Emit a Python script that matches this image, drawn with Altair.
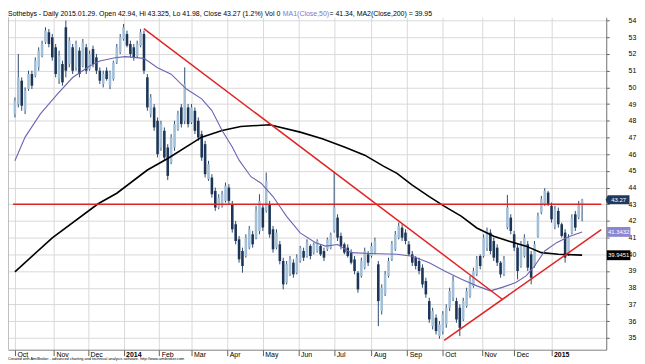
import altair as alt
import pandas as pd

# ---------------- data ----------------
month_ticks = [0, 23, 43, 64, 85, 104, 125, 146, 167, 188, 210, 231, 252, 275, 294, 316]
month_labels = ["Oct", "Nov", "Dec", "2014", "Feb", "Mar", "Apr", "May", "Jun", "Jul",
                "Aug", "Sep", "Oct", "Nov", "Dec", "2015"]
price_ticks = [35, 36, 37, 38, 39, 40, 41, 42, 43, 44, 45, 46, 47, 48, 49, 50, 51, 52, 53, 54]

bar_day = list(range(0, 335, 2))
bar_high = [49.4, 52.0, 50.6, 50.0, 51.0, 51.0, 51.8, 52.4, 52.8, 53.6,
            53.5, 53.2, 52.6, 52.2, 51.6, 54.0, 53.0, 52.6, 52.8, 52.4,
            52.9, 52.6, 52.2, 52.5, 52.0, 51.2, 51.0, 51.2, 51.0, 51.6,
            52.6, 53.2, 53.8, 53.4, 52.8, 52.6, 52.8, 53.5, 53.4, 50.8,
            49.6, 49.0, 48.2, 48.0, 47.6, 46.6, 47.2, 48.0, 48.6, 49.0,
            51.2, 49.0, 49.0, 48.8, 48.2, 47.4, 46.8, 45.6, 44.8, 44.0,
            43.6, 43.8, 44.3, 44.2, 43.2, 42.0, 41.1, 40.4, 41.2, 41.7,
            41.4, 42.9, 43.6, 43.0, 44.9, 43.2, 41.7, 41.5, 40.8, 39.8,
            39.6, 39.9, 39.7, 40.0, 40.5, 40.4, 40.9, 40.6, 40.7, 40.9,
            40.6, 40.4, 41.0, 41.3, 44.95, 42.4, 41.3, 40.7, 40.6, 40.3,
            39.9, 39.0, 39.8, 40.4, 40.2, 40.7, 41.0, 39.6, 38.2, 39.0,
            39.8, 40.8, 41.4, 41.9, 41.8, 41.5, 40.8, 40.2, 39.9, 39.8,
            39.4, 38.6, 37.4, 36.8, 36.4, 36.0, 36.6, 37.0, 38.0, 38.7,
            37.4, 37.0, 37.4, 38.0, 38.7, 39.2, 39.9, 40.0, 41.2, 41.6,
            41.5, 41.0, 40.6, 39.6, 39.9, 43.56, 42.4, 41.4, 40.6, 40.8,
            41.2, 40.8, 40.2, 40.8, 42.5, 43.5, 43.96, 43.8, 43.1, 42.9,
            42.8, 41.9, 41.5, 41.2, 42.4, 42.6, 43.2, 43.325]
bar_low = [48.2, 48.8, 48.6, 48.4, 49.8, 49.9, 50.6, 51.0, 51.8, 52.6,
           52.4, 51.6, 50.6, 50.2, 50.1, 50.6, 51.2, 50.8, 51.0, 50.6,
           51.2, 50.8, 51.0, 51.2, 50.8, 50.2, 50.0, 50.4, 49.9, 50.4,
           51.4, 52.0, 52.8, 52.4, 51.8, 51.6, 51.8, 52.4, 50.8, 48.6,
           48.2, 47.4, 45.8, 46.2, 45.6, 44.45, 45.4, 46.2, 47.4, 47.6,
           47.8, 47.6, 47.8, 47.2, 46.8, 45.6, 44.6, 44.4, 43.4, 42.6,
           42.7, 42.8, 43.1, 43.0, 41.3, 40.6, 39.5, 38.9, 39.8, 40.3,
           40.4, 40.9, 41.2, 41.4, 42.5, 41.0, 40.1, 40.3, 39.4, 37.9,
           38.2, 38.7, 38.6, 38.8, 39.5, 39.6, 39.8, 39.7, 40.0, 40.1,
           39.9, 39.6, 40.2, 40.3, 41.3, 40.8, 40.3, 40.0, 39.8, 39.4,
           38.8, 37.7, 38.6, 39.1, 39.3, 39.8, 40.0, 35.7, 36.4, 37.5,
           38.6, 39.6, 40.2, 40.9, 40.8, 40.6, 39.9, 39.3, 39.1, 38.8,
           38.0, 37.4, 35.9, 35.5, 35.2, 34.95, 35.2, 35.6, 36.6, 37.2,
           35.9, 35.1, 36.0, 36.8, 37.4, 38.0, 38.7, 39.1, 39.8, 40.2,
           40.0, 39.6, 39.3, 38.6, 38.7, 41.5, 41.2, 40.2, 38.5, 39.2,
           39.8, 39.0, 38.2, 39.2, 41.0, 42.4, 42.9, 42.9, 41.9, 41.5,
           41.6, 41.0, 39.5, 39.9, 41.2, 41.4, 42.1, 41.98]
bar_open = [48.4, 49.0, 50.4, 48.6, 49.9, 50.8, 50.7, 51.2, 51.9, 52.7,
            53.3, 53.0, 52.4, 50.5, 51.4, 53.6, 51.4, 52.4, 51.2, 52.2,
            51.3, 52.4, 51.1, 52.3, 51.8, 51.0, 50.2, 51.0, 50.1, 50.5,
            51.5, 52.1, 52.9, 53.2, 52.6, 52.4, 51.9, 52.5, 53.2, 50.6,
            48.4, 48.8, 48.0, 46.4, 47.4, 46.4, 45.5, 46.4, 47.5, 48.8,
            48.0, 48.8, 47.9, 48.6, 48.0, 47.2, 46.6, 44.5, 44.6, 43.8,
            42.8, 42.9, 43.2, 44.0, 43.0, 41.8, 40.9, 40.2, 39.9, 40.4,
            41.2, 41.0, 41.4, 42.8, 42.6, 43.0, 41.5, 40.4, 40.6, 39.6,
            38.3, 38.8, 39.5, 38.9, 39.6, 40.2, 39.9, 40.5, 40.1, 40.2,
            40.5, 40.2, 40.3, 40.4, 41.4, 42.2, 41.1, 40.6, 40.4, 40.1,
            39.7, 38.9, 38.7, 39.2, 40.0, 39.9, 40.1, 39.4, 36.6, 37.6,
            38.7, 39.7, 40.3, 41.0, 41.6, 41.3, 40.6, 40.0, 39.8, 39.6,
            39.2, 38.4, 37.2, 35.7, 36.2, 35.1, 35.4, 35.8, 36.8, 37.4,
            37.2, 36.8, 36.1, 36.9, 37.5, 38.1, 38.8, 39.9, 39.9, 40.4,
            41.3, 40.8, 40.4, 39.5, 38.8, 41.6, 42.2, 41.2, 40.4, 39.3,
            39.9, 40.6, 40.0, 39.3, 41.1, 42.5, 43.0, 43.7, 42.9, 41.7,
            42.6, 41.8, 41.3, 40.0, 41.3, 42.4, 42.2, 42.94]
bar_close = [49.2, 50.6, 48.9, 49.8, 50.8, 50.1, 51.6, 52.2, 52.6, 53.4,
             52.6, 51.8, 50.8, 51.9, 50.3, 51.0, 52.8, 51.0, 52.6, 50.8,
             52.7, 51.0, 52.0, 51.4, 51.0, 50.4, 50.8, 50.5, 50.9, 51.5,
             52.4, 53.0, 53.6, 52.5, 52.0, 51.8, 52.6, 53.3, 51.0, 48.8,
             49.4, 47.6, 46.0, 47.8, 45.8, 44.7, 47.0, 47.8, 48.4, 47.8,
             50.2, 47.8, 48.8, 47.4, 47.0, 45.8, 44.8, 45.4, 43.6, 42.8,
             43.4, 43.6, 44.1, 43.2, 41.5, 40.8, 39.7, 39.3, 41.0, 41.5,
             40.6, 42.6, 43.2, 41.6, 44.4, 41.2, 40.3, 41.3, 39.6, 38.2,
             39.4, 39.7, 38.8, 39.8, 40.4, 39.8, 40.7, 39.9, 40.6, 40.8,
             40.0, 39.8, 40.9, 41.2, 42.8, 41.0, 40.5, 40.1, 39.9, 39.5,
             39.0, 37.9, 39.6, 40.2, 39.5, 40.5, 40.8, 37.2, 38.0, 38.8,
             39.6, 40.6, 41.2, 41.7, 41.0, 40.8, 40.0, 39.5, 39.3, 39.0,
             38.2, 37.6, 36.1, 36.6, 35.4, 35.8, 36.4, 36.8, 37.8, 38.4,
             36.1, 35.6, 37.2, 37.8, 38.5, 39.0, 39.7, 39.3, 41.0, 41.4,
             40.2, 39.8, 39.5, 38.8, 39.7, 42.8, 41.4, 40.4, 39.0, 40.6,
             41.0, 39.2, 38.6, 40.6, 42.3, 43.3, 43.8, 43.0, 42.1, 42.7,
             41.8, 41.1, 39.8, 41.0, 42.2, 41.6, 43.0, 43.27]

ma50_day = [0, 6, 15, 25, 34, 44, 50, 59, 65, 76, 84, 92, 101, 110, 116, 122, 128,
            132, 139, 145, 152, 160, 168, 177, 183, 190, 198, 209, 225, 234, 244,
            253, 263, 272, 280, 287, 295, 301, 306, 312, 319, 326, 334]
ma50_val = [45.6, 47.02, 48.41, 49.6, 50.59, 51.28, 51.58, 51.78, 51.84, 51.74,
            51.18, 50.79, 49.9, 49.31, 48.61, 47.42, 46.43, 45.64, 44.65, 44.26,
            43.46, 42.27, 41.28, 40.69, 40.49, 40.59, 40.1, 40.05, 40.0, 39.89,
            39.5, 39.0, 38.51, 38.11, 37.81, 38.02, 38.31, 38.71, 39.3, 40.2,
            40.7, 41.05, 41.34]

ma200_day = [0, 22, 49, 60, 78, 90, 110, 122, 133, 150, 168, 181, 194, 206, 217,
             225, 234, 244, 253, 263, 272, 282, 291, 301, 310, 320, 334]
ma200_val = [38.95, 40.99, 43.03, 43.66, 45.05, 45.74, 47.02, 47.42, 47.66, 47.76,
             47.32, 46.93, 46.43, 45.94, 45.28, 44.85, 44.15, 43.46, 42.87, 42.27,
             41.58, 41.08, 40.79, 40.49, 40.1, 40.0, 39.95]

trend_name = ["horizontal", "horizontal", "downtrend", "downtrend", "uptrend", "uptrend"]
trend_day = [-1.1, 345.3, 75.9, 287.4, 252.8, 345.3]
trend_val = [43.0, 43.0, 53.52, 37.28, 34.84, 41.48]

last_close = 43.27
ma50_last = 41.3432
ma200_last = 39.9451

title_part1 = "Sothebys - Daily 2015.01.29. Open 42.94, Hi 43.325, Lo 41.98, Close 43.27 (1.2%) Vol 0 "
title_part2 = "MA1(Close,50)"
title_part3 = " = 41.34, MA2(Close,200) = 39.95"
footer_text = ("Created with AmiBroker - advanced charting and technical analysis software. "
               "http://www.amibroker.com")

# ---------------- layout ----------------
W, H = 603, 335
FONT = "Liberation Sans"
x_dom = [-1.149, 345.3]
y_dom = [34.287, 54.196]

bars_df = pd.DataFrame({"day": bar_day, "high": bar_high, "low": bar_low,
                        "open": bar_open, "close": bar_close})
ma50_df = pd.DataFrame({"day": ma50_day, "val": ma50_val})
ma200_df = pd.DataFrame({"day": ma200_day, "val": ma200_val})
trend_df = pd.DataFrame({"name": trend_name, "day": trend_day, "val": trend_val})

xs = alt.Scale(domain=x_dom, nice=False, zero=False)
ys = alt.Scale(domain=y_dom, nice=False, zero=False)

label_expr = "[" + ",".join("'%s'" % m for m in month_labels) + "][indexof([" + \
    ",".join(str(t) for t in month_ticks) + "], datum.value)]"

x_axis = alt.Axis(values=month_ticks, labelExpr=label_expr, orient="bottom",
                  grid=True, gridColor="#d9d9d9", gridWidth=1,
                  domainColor="#808080", tickColor="#606060", tickSize=6,
                  labelFont=FONT, labelFontSize=7, labelColor="#000000",
                  labelAlign="left", labelBaseline="top", labelPadding=-5, labelOffset=2,
                  labelFontWeight={"condition": {"test": "datum.value == 64 || datum.value == 316",
                                                 "value": "bold"}, "value": "normal"},
                  labelOverlap=False, labelFlush=False, labelBound=False, title=None)
y_axis = alt.Axis(values=price_ticks, orient="right", grid=True, gridColor="#d9d9d9",
                  gridWidth=1, domainColor="#707070", tickColor="#606060", tickSize=3,
                  labelFont=FONT, labelFontSize=7, labelColor="#000000",
                  labelAlign="left", labelPadding=19, labelOverlap=False,
                  labelFlush=False, labelBound=False, title=None)


def X(field):
    return alt.X(field, type="quantitative", scale=xs, axis=x_axis, title=None)


def Y(field):
    return alt.Y(field, type="quantitative", scale=ys, axis=y_axis, title=None)


base = alt.Chart(bars_df)

wicks = base.mark_rule(color="#2c4a6e", strokeWidth=1).encode(
    x=X("day"), y=Y("low"), y2="high:Q")
bodies = base.transform_calculate(
    dir="datum.close >= datum.open ? 'up' : 'down'"
).mark_bar(width=2.6).encode(
    x=X("day"), y=Y("open"), y2="close:Q",
    color=alt.Color("dir:N", scale=alt.Scale(domain=["up", "down"],
                                             range=["#a3bfd8", "#1d3657"]), legend=None),
)

ma200 = alt.Chart(ma200_df).mark_line(color="#000000", strokeWidth=1.6).encode(
    x=X("day"), y=Y("val"))
ma50 = alt.Chart(ma50_df).mark_line(color="#6a64b4", strokeWidth=1.1).encode(
    x=X("day"), y=Y("val"))
trends = alt.Chart(trend_df).mark_line(color="#e02424", strokeWidth=1.5, clip=True).encode(
    x=X("day"), y=Y("val"), detail="name:N")

left_border = alt.Chart(bars_df.head(1)).mark_rule(color="#808080").encode(
    x=alt.value(0), y=alt.value(0), y2=alt.value(H))

# value boxes on the right axis
box_path = "M-1.2,0 L-1,-0.42 L1,-0.42 L1,0.42 L-1,0.42 Z"
rect_path = "M-1,-0.42 L1,-0.42 L1,0.42 L-1,0.42 Z"


def value_box(val, fill, txt_color, path, text, size):
    df = pd.DataFrame({"val": [val], "text": [text]})
    b = alt.Chart(df).mark_point(shape=path, filled=True, fill=fill, opacity=1,
                                 size=size, strokeWidth=0).encode(
        x=alt.value(W + 12.5), y=Y("val"))
    t = alt.Chart(df).mark_text(font=FONT, fontSize=6, color=txt_color, align="center",
                                baseline="middle").encode(
        x=alt.value(W + 12.5), y=Y("val"), text="text:N")
    return b + t


boxes = (value_box(last_close, "#1f3a5e", "#ffffff", box_path, "43.27", 480)
         + value_box(ma50_last, "#8b86d2", "#ffffff", rect_path, "41.3432", 560)
         + value_box(ma200_last, "#000000", "#ffffff", rect_path, "39.9451", 560))

one = pd.DataFrame({"a": [0]})
t1 = alt.Chart(one).mark_text(font=FONT, fontSize=7, color="#000000", align="left",
                              baseline="alphabetic").encode(
    x=alt.value(0), y=alt.value(-1), text=alt.value(title_part1))
t2 = alt.Chart(one).mark_text(font=FONT, fontSize=7, color="#7b78cc", align="left",
                              baseline="alphabetic").encode(
    x=alt.value(277), y=alt.value(-1), text=alt.value(title_part2))
t3 = alt.Chart(one).mark_text(font=FONT, fontSize=7, color="#000000", align="left",
                              baseline="alphabetic").encode(
    x=alt.value(324), y=alt.value(-1), text=alt.value(title_part3))
foot = alt.Chart(one).mark_text(font=FONT, fontSize=3.9, color="#000000", align="left",
                                baseline="alphabetic").encode(
    x=alt.value(0), y=alt.value(H + 10), text=alt.value(footer_text))

chart = alt.layer(wicks, bodies, ma200, ma50, trends, left_border, boxes,
                  t1, t2, t3, foot).properties(
    width=W, height=H,
    autosize=alt.AutoSizeParams(type="none"),
    padding={"left": 0, "top": 8, "right": 31, "bottom": 12},
    background="#ffffff",
).configure_view(stroke=None).configure_axisRight(
    labelPadding=19, labelAlign="left"
).configure_axisBottom(labelPadding=-5)

chart.save("out.html", embed_options={"renderer": "svg", "actions": False})
